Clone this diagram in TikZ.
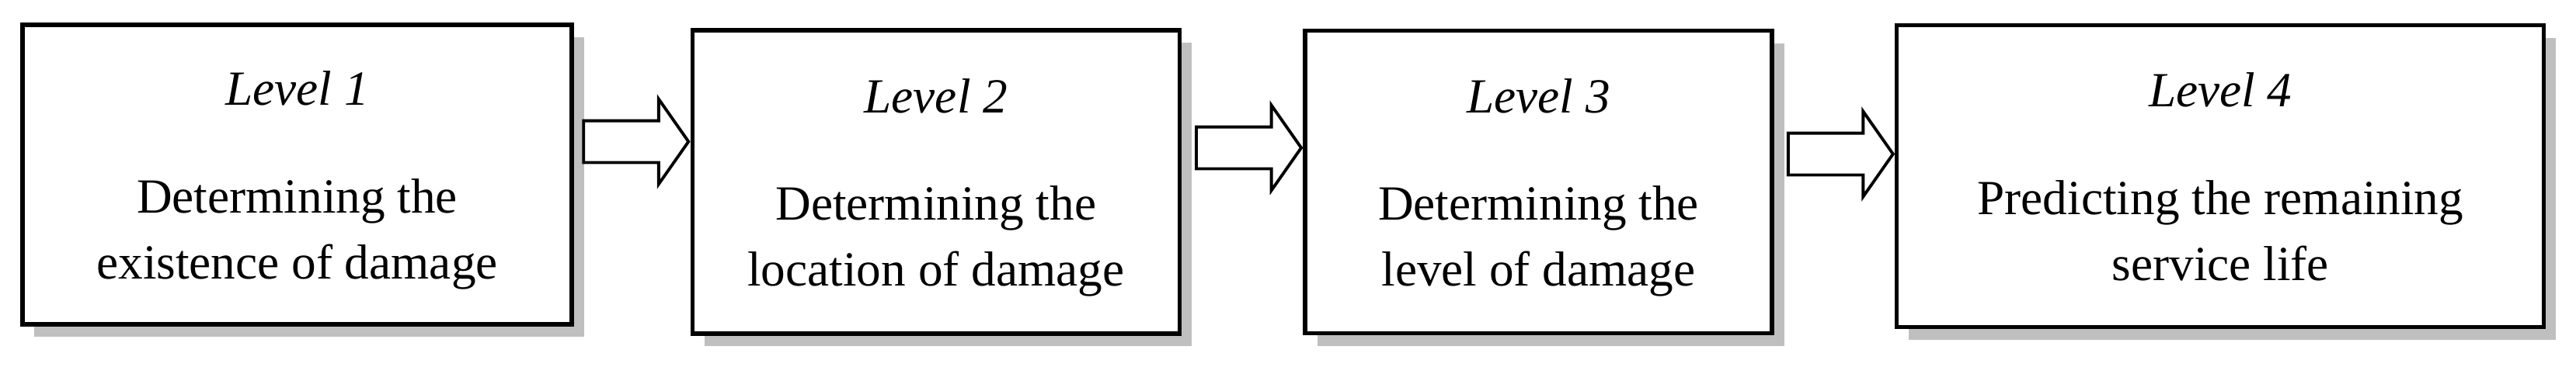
\documentclass[tikz,border=0pt]{standalone}
\usepackage{fontspec}
\setmainfont{Liberation Serif}
\usepackage{tikz}
\usetikzlibrary{shapes, shapes.arrows, shadows, positioning}
\tikzstyle{level} = [rectangle, draw=black, line width=1.5pt, fill=white, align=center, font=\fontsize{18pt}{24.2pt}\selectfont, drop shadow={shadow xshift=0.155cm, shadow yshift=-0.16cm, fill=black!25, opacity=1}]
\tikzstyle{fatarrow} = [single arrow, draw=black, fill=white, line width=1.1pt, inner xsep=0pt, inner ysep=0.25cm, minimum height=1.35cm, single arrow head extend=0.28cm, single arrow tip angle=110, single arrow head indent=0pt]
\newcommand{\topstrut}{\rule{0pt}{0.6cm}}
\newcommand{\botstrut}{\rule[-0.15cm]{0pt}{0.15cm}}

\begin{document}
\begin{tikzpicture}
	\useasboundingbox (0,0) rectangle (33.16,4.72);
	\node (l1) [level, minimum width=7.07cm, minimum height=3.86cm] at (3.825,2.47) {\topstrut\textit{Level 1}\\[0.53cm]Determining the\\existence of damage\botstrut};
	\node (l2) [level, minimum width=6.27cm, minimum height=3.91cm, right=1.5cm of l1, yshift=-0.095cm] {\topstrut\textit{Level 2}\\[0.53cm]Determining the\\location of damage\botstrut};
	\node (l3) [level, minimum width=6.01cm, minimum height=3.90cm, right=1.565cm of l2] {\topstrut\textit{Level 3}\\[0.53cm]Determining the\\level of damage\botstrut};
	\node (l4) [level, minimum width=8.33cm, minimum height=3.89cm, right=1.555cm of l3, yshift=0.075cm] {\topstrut\textit{Level 4}\\[0.53cm]Predicting the remaining\\service life\botstrut};
	\node (a1) [fatarrow, anchor=tip] at ([yshift=0.52cm]l2.west) {};
	\node (a2) [fatarrow, anchor=tip] at ([yshift=0.44cm]l3.west) {};
	\node (a3) [fatarrow, anchor=tip] at ([yshift=0.285cm]l4.west) {};
\end{tikzpicture}
\end{document}
